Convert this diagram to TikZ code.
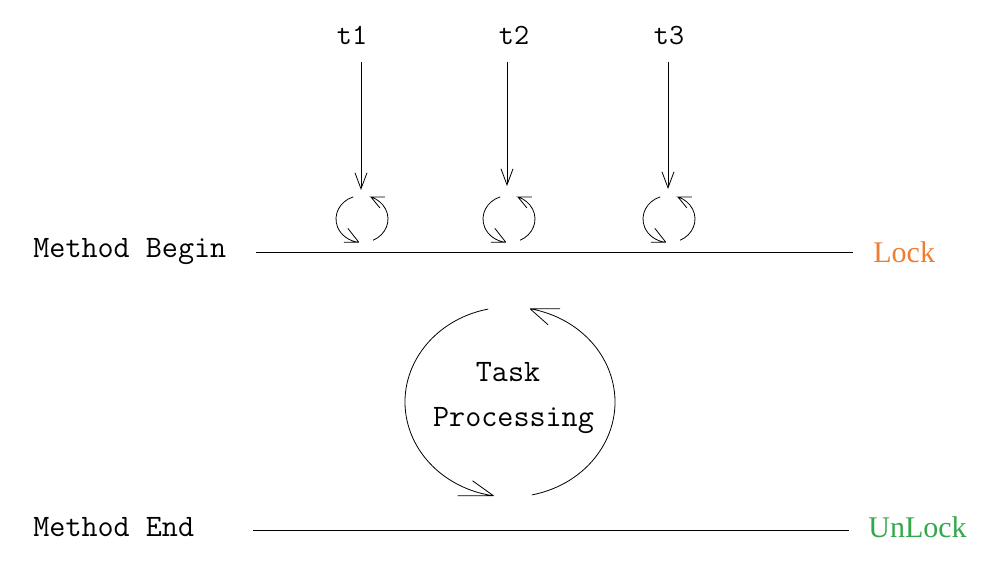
\documentclass[tikz,border=0pt]{standalone}
\usepackage{fontspec}
\newfontfamily\lockfont{Liberation Serif}
\usetikzlibrary{arrows.meta}
\definecolor{lockorange}{RGB}{237,125,49}
\definecolor{unlockgreen}{RGB}{50,168,75}
\begin{document}
\begin{tikzpicture}[x=0.75pt,y=0.75pt,line width=0.6pt,
  monolabel/.style={inner sep=0pt,font=\ttfamily\fontsize{23.4}{27}\selectfont},
  tlabel/.style={inner sep=0pt,anchor=base,font=\ttfamily\fontsize{22}{26}\selectfont},
  locklabel/.style={inner sep=0pt,anchor=base west,font=\lockfont\fontsize{22.5}{27}\selectfont},
  thread/.style={-{Straight Barb[length=12pt,width=9pt]}},
  bar/.style={line width=0.7pt}]
\useasboundingbox (0,0) rectangle (1008,574);

% labels
\node[monolabel,anchor=base west] (mb) at (33,316) {Method Begin};
\node[monolabel,anchor=base west] (me) at (33,37) {Method End};
\node[locklabel,text=lockorange] (lock) at (873,311) {Lock};
\node[locklabel,text=unlockgreen] (unlock) at (868,36) {UnLock};
\node[tlabel] (t1) at (352,529) {t1};
\node[tlabel] (t2) at (514,529) {t2};
\node[tlabel] (t3) at (669,529) {t3};
\node[monolabel,anchor=base] (task) at (508,192) {Task};
\node[monolabel,anchor=base] (proc) at (513.5,147) {Processing};

% horizontal bars
\coordinate (mbl) at (256,322); \coordinate (mbr) at (853,322);
\coordinate (mel) at (253,44);  \coordinate (mer) at (849,44);
\draw[bar] (mbl) -- (mbr);
\draw[bar] (mel) -- (mer);

% thread arrows
\coordinate (a1s) at (361,512); \coordinate (a1e) at (361,384);
\coordinate (a2s) at (507,512); \coordinate (a2e) at (507,388);
\coordinate (a3s) at (668,512); \coordinate (a3e) at (668,385);
\draw[thread] (a1s) -- (a1e);
\draw[thread] (a2s) -- (a2e);
\draw[thread] (a3s) -- (a3e);

% small spinning cycles
\foreach \cx in {362,509,669}{
  \draw (\cx,355) ++(110:26 and 23.5)
    arc[start angle=110,end angle=263,x radius=26,y radius=23.5]
    -- ++(-15,0) ++(15,0) -- ++(-11,14);
  \draw (\cx,355) ++(295:26 and 23.5)
    arc[start angle=295,end angle=430,x radius=26,y radius=23.5]
    -- ++(14,0) ++(-14,0) -- ++(9,-11);
}

% big processing cycle
\draw (510,172) ++(102:105 and 95)
  arc[start angle=102,end angle=261,x radius=105,y radius=95]
  -- ++(-36,0) ++(36,0) -- ++(-21,15);
\draw (510,172) ++(282:105 and 95)
  arc[start angle=282,end angle=439,x radius=105,y radius=95]
  -- ++(30,0) ++(-30,0) -- ++(18,-16);
\end{tikzpicture}
\end{document}
